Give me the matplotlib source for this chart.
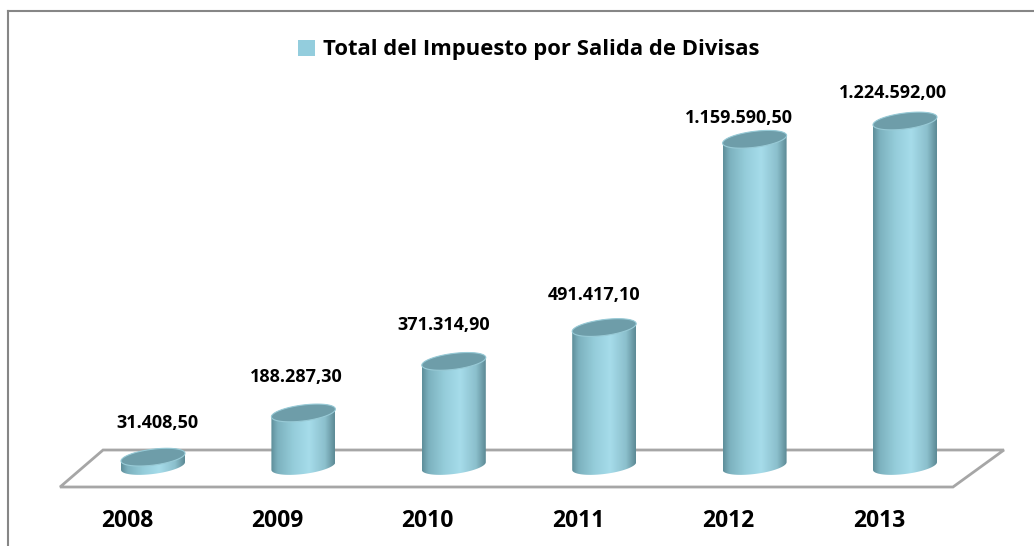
import numpy as np
import matplotlib.pyplot as plt
from matplotlib.colors import LinearSegmentedColormap
from matplotlib.patches import Polygon, PathPatch, Patch
from matplotlib.path import Path
from matplotlib.lines import Line2D

plt.rcParams['font.family'] = ['Open Sans', 'DejaVu Sans']

years = ['2008', '2009', '2010', '2011', '2012', '2013']
values = [31408.50, 188287.30, 371314.90, 491417.10, 1159590.50, 1224592.00]
value_labels = ['31.408,50', '188.287,30', '371.314,90', '491.417,10',
                '1.159.590,50', '1.224.592,00']
series_name = 'Total del Impuesto por Salida de Divisas'

# label nudges in pixels (x, y above top of cylinder)
nudge_x = [4, -7, -10, -10, -16, -12]
nudge_y = [34, 36, 36, 33, 21, 28]

W, H = 1034, 546
fig = plt.figure(figsize=(W / 100, H / 100), dpi=100)
ax = fig.add_axes([0, 0, 1, 1])

# size of one pixel in data units
px_x = 1 / 150.4
px_y = 3549.5
ax.axis('off')

# cylinder geometry in pixels
a_px = 32      # half width
b_px = 8       # half height of the ellipses
tilt = 0.12    # ellipse rises to the right

body_cmap = LinearSegmentedColormap.from_list('cyl', [
    (0.00, '#5e8e9a'), (0.10, '#7cb1be'), (0.35, '#95cdda'),
    (0.60, '#a6dcea'), (0.85, '#8bbfcc'), (1.00, '#5d8a95')])


def ellipse_pts(cx, cy, t0, t1, n=80):
    t = np.linspace(t0, t1, n)
    u = a_px * np.cos(t)
    v = b_px * np.sin(t) + tilt * u
    return np.column_stack([cx + u * px_x, cy + v * px_y])


# floor
back_y = 16 * px_y
front_y = -21 * px_y
floor = Polygon([(-0.332, back_y), (5.658, back_y), (5.319, front_y), (-0.618, front_y)],
                closed=True, facecolor='white', edgecolor='#a6a6a6', lw=2, zorder=1)
ax.add_patch(floor)

grad = np.linspace(0, 1, 200).reshape(1, -1)
for i, v in enumerate(values):
    bottom = ellipse_pts(i, 0, np.pi, 2 * np.pi)
    top_back = ellipse_pts(i, v, 0, np.pi)
    verts = np.vstack([bottom, top_back, bottom[:1]])
    clip = PathPatch(Path(verts, closed=True), facecolor='none', edgecolor='none')
    ax.add_patch(clip)
    lo = verts[:, 1].min()
    hi = verts[:, 1].max()
    im = ax.imshow(grad, extent=[i - a_px * px_x, i + a_px * px_x, lo, hi],
                   cmap=body_cmap, aspect='auto', zorder=3, interpolation='bicubic')
    im.set_clip_path(clip)
    top = ellipse_pts(i, v, 0, 2 * np.pi)
    ax.add_patch(Polygon(top, closed=True, facecolor='#6e9da9', edgecolor='#98cad6',
                         lw=0.8, zorder=4))
    ax.annotate(value_labels[i], (i, v), xytext=(nudge_x[i], nudge_y[i]),
                textcoords='offset pixels', ha='center', va='center',
                fontsize=13, fontweight='bold', color='black', zorder=5)
    ax.text(i - 26 * px_x, -55 * px_y, years[i], ha='center', va='center',
            fontsize=16.5, fontweight='bold', color='black')

ax.set_xlim(-153 * px_x, (W - 153) * px_x)
ax.set_ylim(-80 * px_y, (H - 80) * px_y)

fig.legend(handles=[Patch(facecolor='#93cddd', edgecolor='none', label=series_name)],
           loc='center', bbox_to_anchor=(529 / W, 1 - 50 / H), frameon=False,
           handlelength=0.75, handleheight=0.75, handletextpad=0.4,
           prop={'family': 'Open Sans', 'weight': 'bold', 'size': 15.8})

# chart border (only left and top visible)
fig.add_artist(Line2D([8 / W, 8 / W], [0, 1 - 11 / H], color='#868686', lw=1.5))
fig.add_artist(Line2D([8 / W, 1], [1 - 11 / H, 1 - 11 / H], color='#868686', lw=1.5))

fig.savefig('out.png', dpi=100)
